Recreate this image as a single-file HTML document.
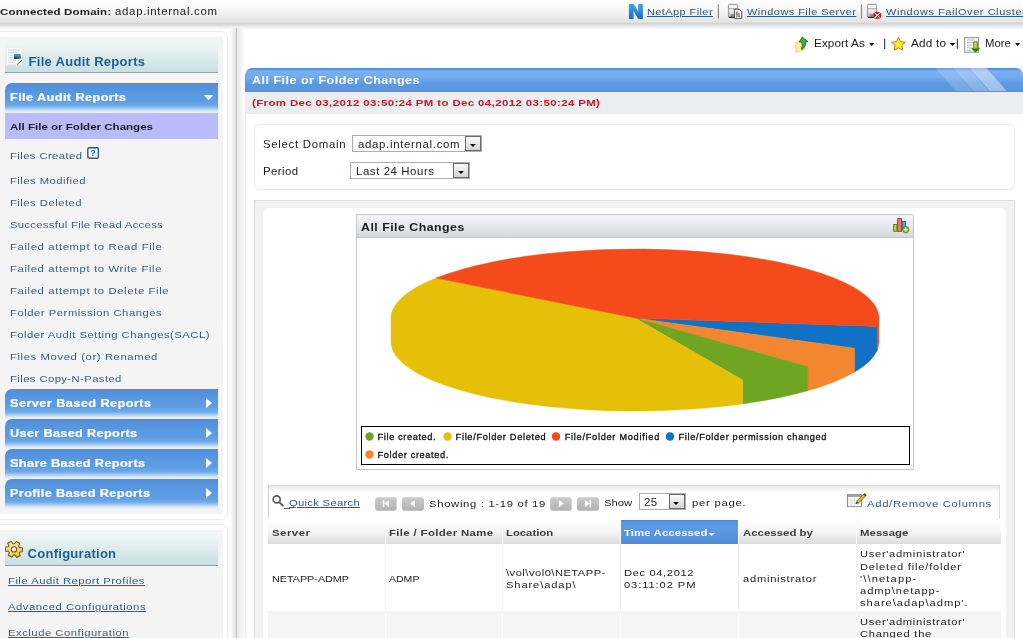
<!DOCTYPE html>
<html>
<head>
<meta charset="utf-8">
<title>Audit Report</title>
<style>
html,body{margin:0;padding:0;}
body{width:1023px;height:638px;overflow:hidden;background:#fff;position:relative;font-family:"Liberation Sans",sans-serif;font-size:11px;color:#1c1c1c;}
.abs{position:absolute;}
.t{position:absolute;white-space:nowrap;line-height:14px;transform-origin:0 50%;}
.v{letter-spacing:0.55px;}
.vb{font-weight:bold;letter-spacing:0.35px;}
a{color:#2b5b87;}
/* top bar */
#topbar{left:0;top:0;width:1023px;height:30px;background:linear-gradient(#fdfdfd 0,#f8f8f8 8px,#ededed 16px,#e3e3e3 22px,#d3d3d3 23.5px,#dedede 25px,#eeeeee 27px,#ffffff 29.5px);}
/* sidebar */
.sbox{left:-6px;width:232px;border:1px solid #ececec;border-radius:7px;background:#fff;}
.sboxin{left:0;width:223px;background:#f4f4f5;}
.shead{left:5px;width:213px;background:linear-gradient(#f3f5f5 0,#edf3f3 25%,#dcebec 55%,#c9dfe1 100%);border-bottom:1.4px solid #8fa3a8;}
.bluehead{left:5px;width:213px;height:30px;border-radius:7px 0 0 0;background:linear-gradient(#4f8ed9 0,#5798e1 10px,#5c9de5 18px,#6daae9 23px,#dbe7f6 28px,#eff3f9 30px);}
.bluehead span{position:absolute;left:5px;top:6.7px;-webkit-text-stroke:0.2px #fff;transform-origin:0 50%;line-height:14px;color:#fff;font-weight:bold;font-size:10.6px;letter-spacing:0.45px;white-space:nowrap;}
.item{position:absolute;left:10px;transform-origin:0 50%;color:#2f5f8c;font-size:9.8px;letter-spacing:0.5px;white-space:nowrap;line-height:14px;}
.arrow{position:absolute;right:6px;top:9px;width:0;height:0;border-top:5px solid transparent;border-bottom:5px solid transparent;border-left:6px solid #fff;}

.sel{border:1px solid #a9afb5;background:#fff;}
.sel span{transform-origin:0 50%;position:absolute;left:4.6px;top:1px;color:#222;font-size:10.4px;letter-spacing:0.5px;line-height:15px;white-space:nowrap;}
.sel i{position:absolute;right:0;top:0;width:14px;height:13px;border:1px solid #6a6a6a;background:linear-gradient(#fafafa,#d4d4d4);}
.sel i:after{content:"";position:absolute;left:3.5px;top:6.5px;border-left:3.5px solid transparent;border-right:3.5px solid transparent;border-top:3.5px solid #000;}
.th{font-size:9.5px;color:#3c3c3c;}
.td{font-size:9.7px;color:#222;line-height:12.2px;letter-spacing:0.45px;}
.vl{top:520px;width:1px;height:118px;background:linear-gradient(#fdfdfd 0,#fdfdfd 24px,#f1f1f1 24px,#f1f1f1 91px,#fbfbfb 91px);}
.lg{position:absolute;white-space:nowrap;font-size:9.2px;line-height:13px;letter-spacing:0.5px;color:#111;-webkit-text-stroke:0.3px #111;}
</style>
</head>
<body>
<div id="root" style="position:absolute;left:0;top:0;width:1023px;height:638px;overflow:hidden;will-change:transform;">
<!-- TOP BAR -->
<div id="topbar" class="abs"></div>
<div class="t vb" style="left:0px;top:5.2px;font-size:9.6px;letter-spacing:0.12px;transform:scaleX(1.2);">Connected Domain:</div>
<div class="t v" style="left:115px;top:4.8px;font-size:10.2px;letter-spacing:0.63px;transform:scaleX(1.12);">adap.internal.com</div>

<!-- SIDEBAR BOX 1 -->
<div class="abs sbox" style="top:31px;height:487px;"></div>
<div class="abs sboxin" style="top:37px;height:477px;"></div>
<div class="abs shead" style="top:37px;height:34.6px;"></div>
<div class="t" style="left:28.5px;top:54.5px;font-size:13px;font-weight:bold;color:#1f5f8f;letter-spacing:0.3px;">File Audit Reports</div>

<div class="abs bluehead" style="top:83px;"><span style="letter-spacing:0.34px;transform:scaleX(1.2);">File Audit Reports</span></div>
<div class="abs" style="left:5px;top:113px;width:213px;height:26px;background:#bbbbfb;"></div>
<div class="t vb" style="left:10px;top:119.5px;font-size:9.6px;letter-spacing:0.01px;transform:scaleX(1.2);">All File or Folder Changes</div>

<div class="item" style="top:148.8px;letter-spacing:0.36px;transform:scaleX(1.15);">Files Created</div>
<div class="item" style="top:173.8px;letter-spacing:0.4px;transform:scaleX(1.15);">Files Modified</div>
<div class="item" style="top:195.8px;letter-spacing:0.42px;transform:scaleX(1.15);">Files Deleted</div>
<div class="item" style="top:217.8px;letter-spacing:0.27px;transform:scaleX(1.15);">Successful File Read Access</div>
<div class="item" style="top:239.8px;letter-spacing:0.55px;transform:scaleX(1.15);">Failed attempt to Read File</div>
<div class="item" style="top:261.8px;letter-spacing:0.55px;transform:scaleX(1.15);">Failed attempt to Write File</div>
<div class="item" style="top:283.8px;letter-spacing:0.55px;transform:scaleX(1.15);">Failed attempt to Delete File</div>
<div class="item" style="top:305.8px;letter-spacing:0.46px;transform:scaleX(1.15);">Folder Permission Changes</div>
<div class="item" style="top:327.8px;letter-spacing:0.42px;transform:scaleX(1.15);">Folder Audit Setting Changes(SACL)</div>
<div class="item" style="top:349.8px;letter-spacing:0.53px;transform:scaleX(1.15);">Files Moved (or) Renamed</div>
<div class="item" style="top:371.8px;letter-spacing:0.36px;transform:scaleX(1.15);">Files Copy-N-Pasted</div>

<div class="abs bluehead" style="top:389px;"><span style="letter-spacing:0.36px;transform:scaleX(1.2);">Server Based Reports</span><i class="arrow"></i></div>
<div class="abs bluehead" style="top:419px;"><span style="letter-spacing:0.27px;transform:scaleX(1.2);">User Based Reports</span><i class="arrow"></i></div>
<div class="abs bluehead" style="top:449px;"><span style="letter-spacing:0.3px;transform:scaleX(1.2);">Share Based Reports</span><i class="arrow"></i></div>
<div class="abs bluehead" style="top:479px;"><span style="letter-spacing:0.3px;transform:scaleX(1.2);">Profile Based Reports</span><i class="arrow"></i></div>

<!-- SIDEBAR BOX 2 -->
<div class="abs sbox" style="top:524px;height:140px;"></div>
<div class="abs sboxin" style="top:530px;height:120px;"></div>
<div class="abs shead" style="top:530px;height:34.6px;"></div>
<div class="t" style="left:27.6px;top:546.5px;font-size:13px;font-weight:bold;color:#1f5f8f;letter-spacing:0.27px;">Configuration</div>
<a class="item" style="left:8px;top:574.1px;text-decoration:underline;letter-spacing:0.43px;transform:scaleX(1.15);">File Audit Report Profiles</a>
<a class="item" style="left:8px;top:600.1px;text-decoration:underline;letter-spacing:0.46px;transform:scaleX(1.15);">Advanced Configurations</a>
<a class="item" style="left:8px;top:626.1px;text-decoration:underline;letter-spacing:0.45px;transform:scaleX(1.15);">Exclude Configuration</a>

<!-- DIVIDER -->
<div class="abs" style="left:230px;top:28px;width:15px;height:610px;background:linear-gradient(90deg,#ffffff 0,#f6f6f6 2px,#e4e4e4 5.4px,#c4c4c4 5.9px,#c4c4c4 7.1px,#e9e9e9 7.5px,#f2f2f2 10.5px,#fdfdfd 15px);"></div>
<div class="abs" style="left:245px;top:114px;width:1px;height:524px;background:#f1f1f1;"></div>

<!-- MAIN -->

<!-- top right links -->
<a class="t v" style="left:647.4px;top:4.8px;font-size:9.5px;text-decoration:underline;letter-spacing:0.38px;transform:scaleX(1.15);">NetApp Filer</a>
<a class="t v" style="left:746.7px;top:4.8px;font-size:9.5px;text-decoration:underline;letter-spacing:0.42px;transform:scaleX(1.15);">Windows File Server</a>
<a class="t v" style="left:885.6px;top:4.8px;font-size:9.5px;text-decoration:underline;letter-spacing:0.51px;transform:scaleX(1.15);">Windows FailOver Cluster</a>

<!-- toolbar -->
<div class="t v" style="left:813.5px;top:36.7px;font-size:10.2px;letter-spacing:0.08px;transform:scaleX(1.15);">Export As</div>
<div class="t v" style="left:910.6px;top:36.7px;font-size:10.2px;letter-spacing:0.19px;transform:scaleX(1.15);">Add to</div>
<div class="t v" style="left:984.9px;top:36.7px;font-size:10.2px;letter-spacing:0px;transform:scaleX(1.111);">More</div>

<!-- blue header -->
<div class="abs" style="left:245px;top:68px;width:778px;height:23.6px;border-radius:7px 7px 0 0;background:linear-gradient(#4f8ad4 0,#5a94dc 1.2px,#79afef 3px,#74abec 9px,#5e9be3 15px,#5593de 23px);overflow:hidden;">
  <svg width="778" height="23" style="position:absolute;left:0;top:0"><polygon points="690.3,0 707.3,0 727.8,23 710.8,23" fill="#fff" opacity="0.17"/><polygon points="707.9,0 723.5,0 744,23 728.4,23" fill="#fff" opacity="0.27"/><polygon points="724.2,0 741.3,0 761.8,23 744.7,23" fill="#fff" opacity="0.42"/></svg>
</div>
<div class="t vb" style="left:251.5px;top:73.9px;font-size:10.4px;color:#fff;letter-spacing:0.43px;transform:scaleX(1.2);">All File or Folder Changes</div>
<div class="abs" style="left:245px;top:91.6px;width:778px;height:22.6px;background:#ecedf3;"></div>
<div class="t vb" style="left:252.3px;top:96.4px;font-size:9.5px;color:#d4141c;letter-spacing:0.34px;transform:scaleX(1.2);">(From Dec 03,2012 03:50:24 PM to Dec 04,2012 03:50:24 PM)</div>

<!-- filter box -->
<div class="abs" style="left:254px;top:124px;width:759px;height:64px;border:1px solid #ececec;border-radius:6px;"></div>
<div class="t v" style="left:263.2px;top:138.1px;font-size:10.4px;letter-spacing:0.62px;transform:scaleX(1.1);">Select Domain</div>
<div class="abs sel" style="left:352px;top:135px;width:128px;height:15px;"><span style="letter-spacing:0.61px;transform:scaleX(1.1);">adap.internal.com</span><i></i></div>
<div class="t v" style="left:263.2px;top:165.1px;font-size:10.4px;letter-spacing:0.39px;transform:scaleX(1.1);">Period</div>
<div class="abs sel" style="left:350px;top:162px;width:118px;height:15px;"><span style="letter-spacing:0.52px;transform:scaleX(1.1);">Last 24 Hours</span><i></i></div>

<!-- chart container -->
<div class="abs" style="left:254px;top:200px;width:759px;height:460px;border:1px solid #dedede;background:#f1f1f1;"></div>
<div class="abs" style="left:262.5px;top:208px;width:743.5px;height:440px;background:#fff;border-radius:6px 6px 0 0;"></div>

<!-- chart panel -->
<div class="abs" style="left:355.7px;top:214px;width:556.6px;height:253.6px;border:1px solid #c6c8cc;border-radius:0 2px 0 0;background:#fff;"></div>
<div class="abs" style="left:357px;top:215px;width:556px;height:22px;background:linear-gradient(#f4f5f7 0,#e7e9ed 50%,#d3d6dc 100%);border-bottom:1px solid #c4c7cc;"></div>
<div class="t vb" style="left:361.3px;top:220.6px;font-size:10.3px;letter-spacing:0.4px;transform:scaleX(1.2);">All File Changes</div>
<svg class="abs" style="left:357px;top:238px;" width="556" height="188" viewBox="357 238 556 188">
  <g>
<path d="M877.18,324.91 A244,69 0 0 1 854.40,346.69 L854.40,372.19 A244,69 0 0 0 877.18,350.41 Z" fill="#0f72c4" stroke="#0f72c4" stroke-width="0.4"/>
<path d="M854.40,346.69 A244,69 0 0 1 807.85,365.20 L807.85,390.70 A244,69 0 0 0 854.40,372.19 Z" fill="#f4862f" stroke="#f4862f" stroke-width="0.4"/>
<path d="M807.85,365.20 A244,69 0 0 1 742.57,378.43 L742.57,403.93 A244,69 0 0 0 807.85,390.70 Z" fill="#6ea523" stroke="#6ea523" stroke-width="0.4"/>
<path d="M742.57,378.43 A244,69 0 0 1 391.00,316.50 L391.00,342.00 A244,69 0 0 0 742.57,403.93 Z" fill="#e6bf08" stroke="#e6bf08" stroke-width="0.4"/>
<path d="M879.00,316.50 A244,69 0 0 1 877.18,324.91 L877.18,350.41 A244,69 0 0 0 879.00,342.00 Z" fill="#d8502f" stroke="#d8502f" stroke-width="0.4"/>
<path d="M635,318 L877.18,326.41 A244,69 0 0 1 854.40,348.19 Z" fill="#0f72c4" stroke="#0f72c4" stroke-width="0.5"/>
<path d="M635,318 L854.40,348.19 A244,69 0 0 1 807.85,366.70 Z" fill="#f4862f" stroke="#f4862f" stroke-width="0.5"/>
<path d="M635,318 L807.85,366.70 A244,69 0 0 1 742.57,379.93 Z" fill="#6ea523" stroke="#6ea523" stroke-width="0.5"/>
<path d="M635,318 L742.57,379.93 A244,69 0 0 1 436.16,278.01 Z" fill="#e6bf08" stroke="#e6bf08" stroke-width="0.5"/>
<path d="M635,318 L436.16,278.01 A244,69 0 0 1 877.18,326.41 Z" fill="#f54b1a" stroke="#f54b1a" stroke-width="0.5"/>
</g>
</svg>
<div class="abs" style="left:361px;top:426px;width:547px;height:37px;border:1px solid #000;"></div>
<div class="lg" style="left:377.6px;top:430.8px;letter-spacing:0.62px;">File created.</div>
<div class="lg" style="left:455.6px;top:430.8px;letter-spacing:0.69px;">File/Folder Deleted</div>
<div class="lg" style="left:564.7px;top:430.8px;letter-spacing:0.73px;">File/Folder Modified</div>
<div class="lg" style="left:678.5px;top:430.8px;letter-spacing:0.68px;">File/Folder permission changed</div>
<div class="lg" style="left:377.6px;top:448.7px;letter-spacing:0.64px;">Folder created.</div>
<svg class="abs" style="left:361px;top:427px;" width="548" height="37" viewBox="361 427 548 37">
<circle cx="369.5" cy="436.5" r="4.2" fill="#6ea523"/><circle cx="447.5" cy="436.5" r="4.2" fill="#e6bf08"/><circle cx="556" cy="436.5" r="4.2" fill="#f54b1a"/><circle cx="670" cy="436.5" r="4.2" fill="#0f72c4"/><circle cx="369.5" cy="454.5" r="4.2" fill="#f4862f"/>
</svg>

<!-- table toolbar -->
<div class="abs" style="left:268px;top:484.5px;width:732px;height:34.5px;background:linear-gradient(#dadada 0,#ececec 2px,#f8f8f8 5px,#ffffff 8px);border-left:1px solid #cfcfcf;border-right:1px solid #dcdcdc;box-sizing:border-box;"></div>
<a class="t v" style="left:288.9px;top:496.3px;font-size:9.8px;text-decoration:underline;letter-spacing:0.24px;transform:scaleX(1.15);">Quick Search</a>
<div class="t v" style="left:429.3px;top:496.5px;font-size:9.8px;letter-spacing:0.59px;transform:scaleX(1.15);">Showing : 1-19 of 19</div>
<div class="t v" style="left:604.3px;top:495.6px;font-size:9.8px;letter-spacing:0px;transform:scaleX(1.15);">Show</div>
<div class="abs sel" style="left:638.5px;top:493px;width:45px;height:15px;"><span style="letter-spacing:0.35px;transform:scaleX(1.1);">25</span><i></i></div>
<div class="t v" style="left:692.4px;top:496.1px;font-size:9.8px;letter-spacing:0.65px;transform:scaleX(1.15);">per page.</div>
<div class="t v" style="left:866.5px;top:496.6px;font-size:9.8px;color:#2b5b87;letter-spacing:0.59px;transform:scaleX(1.15);">Add/Remove Columns</div>

<div class="abs" style="left:284px;top:507.7px;width:5.5px;height:1px;background:#2b5b87;"></div>
<!-- table header -->
<div class="abs" style="left:268px;top:520px;width:733px;height:24px;background:linear-gradient(#ffffff 0,#f6f6f6 45%,#dcdcdc 100%);"></div>
<div class="abs" style="left:621px;top:520px;width:117px;height:24px;background:linear-gradient(#4a85cf 0,#5a98e2 2.5px,#5c9ae4 8px,#5794df 16px,#4e8cd8 24px);"></div>
<div class="t vb th" style="left:272px;top:525.5px;letter-spacing:0.41px;transform:scaleX(1.2);">Server</div>
<div class="t vb th" style="left:389.4px;top:525.5px;letter-spacing:0.29px;transform:scaleX(1.2);">File / Folder Name</div>
<div class="t vb th" style="left:506.4px;top:525.5px;letter-spacing:0px;transform:scaleX(1.19);">Location</div>
<div class="t vb th" style="left:624px;top:525.5px;color:#fff;letter-spacing:0.07px;transform:scaleX(1.2);">Time Accessed</div>
<div class="t vb th" style="left:742.6px;top:525.5px;letter-spacing:0.02px;transform:scaleX(1.2);">Accessed by</div>
<div class="t vb th" style="left:860px;top:525.5px;letter-spacing:0.03px;transform:scaleX(1.2);">Message</div>

<!-- rows -->
<div class="abs" style="left:268px;top:544px;width:733px;height:67px;background:#fff;"></div>
<div class="abs" style="left:268px;top:611px;width:733px;height:40px;background:#f5f5f6;"></div>
<div class="abs vl" style="left:385px;"></div><div class="abs vl" style="left:502px;"></div><div class="abs vl" style="left:620px;"></div><div class="abs vl" style="left:738px;"></div><div class="abs vl" style="left:856px;"></div>
<div class="t v td" style="left:272px;top:572.9px;letter-spacing:0px;transform:scaleX(1.112);">NETAPP-ADMP</div>
<div class="t v td" style="left:389.4px;top:572.9px;letter-spacing:0px;transform:scaleX(1.086);">ADMP</div>
<div class="t v td" style="left:506.4px;top:566.5px;letter-spacing:0.43px;transform:scaleX(1.15);">\vol\vol0\NETAPP-</div>
<div class="t v td" style="left:506.4px;top:578.9px;letter-spacing:0.77px;transform:scaleX(1.15);">Share\adap\</div>
<div class="t v td" style="left:624px;top:566.8px;letter-spacing:0.55px;transform:scaleX(1.15);">Dec 04,2012</div>
<div class="t v td" style="left:624px;top:578.8px;letter-spacing:0.79px;transform:scaleX(1.15);">03:11:02 PM</div>
<div class="t v td" style="left:742.6px;top:572.9px;letter-spacing:0.65px;transform:scaleX(1.15);">administrator</div>
<div class="t v td" style="left:860px;top:548.4px;letter-spacing:0.6px;transform:scaleX(1.15);">User'administrator'</div>
<div class="t v td" style="left:860px;top:560.8px;letter-spacing:0.69px;transform:scaleX(1.15);">Deleted file/folder</div>
<div class="t v td" style="left:860px;top:572.8px;letter-spacing:0.98px;transform:scaleX(1.15);">'\\netapp-</div>
<div class="t v td" style="left:860px;top:585.1px;letter-spacing:0.85px;transform:scaleX(1.15);">admp\netapp-</div>
<div class="t v td" style="left:860px;top:597.1px;letter-spacing:0.85px;transform:scaleX(1.15);">share\adap\admp'.</div>
<div class="t v td" style="left:860px;top:615.8px;letter-spacing:0.6px;transform:scaleX(1.15);">User'administrator'</div>
<div class="t v td" style="left:860px;top:627.8px;letter-spacing:0.65px;transform:scaleX(1.15);">Changed the</div>


<!-- ICONS -->
<svg class="abs" style="left:0;top:0;" width="1023" height="638" viewBox="0 0 1023 638">
<defs>
<linearGradient id="gN" x1="0" y1="0" x2="0" y2="1"><stop offset="0" stop-color="#3fa6f0"/><stop offset="1" stop-color="#1a6fbe"/></linearGradient>
<linearGradient id="gSrv" x1="0" y1="0" x2="0" y2="1"><stop offset="0" stop-color="#e8e8e8"/><stop offset="0.35" stop-color="#f6f6f6"/><stop offset="1" stop-color="#bdbdbd"/></linearGradient>
<linearGradient id="gBtn" x1="0" y1="0" x2="0" y2="1"><stop offset="0" stop-color="#cbcbcb"/><stop offset="1" stop-color="#b2b2b2"/></linearGradient>
<linearGradient id="gGear" x1="0" y1="0" x2="1" y2="1"><stop offset="0" stop-color="#fdf0b0"/><stop offset="1" stop-color="#f3bf2c"/></linearGradient>
<linearGradient id="gArr" x1="0" y1="0" x2="1" y2="0"><stop offset="0" stop-color="#7fb02a"/><stop offset="0.5" stop-color="#b4dc55"/><stop offset="1" stop-color="#6a9a20"/></linearGradient>
</defs>
<!-- sidebar title icon -->
<g>
<rect x="6.5" y="47.5" width="15" height="17" fill="#fbfcfc" stroke="#e8eeee" stroke-width="0.8"/>
<path d="M8 50h12M8 52.5h9M8 55h5M8 57.5h5M8 60h8M8 62.5h7" stroke="#cfd3d6" stroke-width="1"/>
<rect x="14" y="54" width="6.7" height="4.6" fill="#3b93cf"/><rect x="14" y="56.6" width="6.7" height="2" fill="#3f6a44"/><rect x="14" y="57.4" width="3" height="1.2" fill="#1d2a24"/>
<path d="M17.2 64.4L22 60.2" stroke="#4a4a4a" stroke-width="0.9"/>
</g>
<!-- help icon -->
<rect x="87.8" y="147.7" width="10.6" height="10.6" rx="1.6" fill="#eef7fe" stroke="#2f5a7c" stroke-width="1.4"/>
<text x="93.1" y="156.4" font-family="Liberation Sans" font-size="9" font-weight="bold" fill="#2a6aa8" text-anchor="middle">?</text>
<!-- blue head down arrow -->
<path d="M203.8 95h9.6l-4.8 5.2z" fill="#fff"/>
<!-- gear -->
<g transform="translate(14,549.4) scale(0.92)">
<path id="gearp" d="M-2.2,-8.6 L2.2,-8.6 L2.6,-5.6 L4.3,-4.7 L7.0,-6.2 L9.2,-2.4 L6.8,-0.6 L6.8,0.6 L9.2,2.4 L7.0,6.2 L4.3,4.7 L2.6,5.6 L2.2,8.6 L-2.2,8.6 L-2.6,5.6 L-4.3,4.7 L-7.0,6.2 L-9.2,2.4 L-6.8,0.6 L-6.8,-0.6 L-9.2,-2.4 L-7.0,-6.2 L-4.3,-4.7 L-2.6,-5.6 Z" transform="rotate(30)" fill="url(#gGear)" stroke="#6b5a1a" stroke-width="1.1" stroke-linejoin="round"/>
<circle cx="0" cy="0" r="2.9" fill="#eef0ee" stroke="#6b5a1a" stroke-width="1.1"/>
</g>
<!-- NetApp N -->
<path d="M628.9 3.9h4.9l4.4 7.6V3.9h4.7v15h-4.7l-4.6-8v8h-4.7z" fill="url(#gN)"/>
<!-- sep -->
<rect x="717.8" y="4.3" width="1.2" height="14.3" fill="#8a8a8a"/>
<rect x="860.9" y="4.3" width="1.2" height="14.3" fill="#8a8a8a"/>
<!-- server + doc -->
<g>
<rect x="728.4" y="4.3" width="9.3" height="13" rx="1.2" fill="url(#gSrv)" stroke="#8c8c8c" stroke-width="0.9"/>
<rect x="729" y="6.2" width="8" height="1.6" fill="#fff"/>
<rect x="728.4" y="8.3" width="9.3" height="0.9" fill="#9a9a9a"/>
<rect x="730.5" y="14.6" width="4" height="1" fill="#c7283a"/>
<rect x="729" y="16.7" width="6" height="1.2" fill="#111"/>
<path d="M734.6 9.2h4.6l2.5 2.5v6.7h-7.1z" fill="#fff" stroke="#3a3a3a" stroke-width="0.9"/>
<path d="M736 12.2h1.8M736 14.1h4M736 16.1h4" stroke="#222" stroke-width="0.9"/>
</g>
<!-- server + red x -->
<g>
<rect x="867.4" y="4.3" width="9.3" height="13" rx="1.2" fill="url(#gSrv)" stroke="#8c8c8c" stroke-width="0.9"/>
<rect x="868" y="6.2" width="8" height="1.6" fill="#fff"/>
<rect x="867.4" y="8.3" width="9.3" height="0.9" fill="#9a9a9a"/>
<rect x="869.5" y="14.6" width="4" height="1" fill="#c7283a"/>
<rect x="868" y="16.7" width="6" height="1.2" fill="#111"/>
<path d="M874.6 11.9h5.2l1.3 1.5v3.8l-1.3 1.5h-5.2l-1.3-1.5v-3.8z" fill="#c8141f"/>
<path d="M874.2 12.3l6.3 6M880.5 12.3l-6.3 6" stroke="#fbe9ea" stroke-width="1.1"/>
</g>
<!-- export icon -->
<g>
<path d="M795.3 42.3l5.2-1.3 1 1.2 4.6-0.6-1.2 8.2-9 2.8z" fill="#f4e27a" stroke="#e9d56a" stroke-width="0.5"/>
<path d="M796.2 43.6l4-0.9 0.8 1 3.8-0.4-0.9 6-7.2 2.2z" fill="#f9eea2"/>
<path d="M802.3 37.1l5.7 4.6-2.6 0.1c0.6 3 -0.8 6 -3.6 7.9l-0.5-1.6c1.3-1.7 1.4-4 0.5-6.2l-2.6 0.1z" fill="#3fb43f" stroke="#187018" stroke-width="0.9" stroke-linejoin="round"/>
</g>
<path d="M869.3 43h4.8l-2.4 3.1z" fill="#000"/>
<rect x="884" y="38.8" width="1.2" height="10.2" fill="#444"/>
<!-- star -->
<g transform="translate(898.5,44) scale(0.93) translate(-898.5,-44.4)"><path d="M898.5 37.2l2.2 4.7 5.2 0.6-3.8 3.5 1 5.1-4.6-2.6-4.6 2.6 1-5.1-3.8-3.5 5.2-0.6z" fill="#ffe21c" stroke="#b8741c" stroke-width="1" stroke-linejoin="round"/>
<path d="M898.5 40l1.3 3 3 0.3-2.2 2 0.6 3-2.7-1.5-2.7 1.5 0.6-3-2.2-2 3-0.3z" fill="#fff41e"/></g>
<path d="M949.9 43h5.2l-2.6 3.1z" fill="#000"/>
<rect x="956.8" y="39" width="1.2" height="9.8" fill="#444"/>
<!-- more icon -->
<g>
<rect x="964.6" y="37.6" width="13.8" height="14.6" fill="#fbfbfb" stroke="#9a9a9a" stroke-width="1.1"/>
<path d="M967 40h8M967 42.6h6M967 45.2h5M967 47.8h4M967 50.2h4" stroke="#b5b5b5" stroke-width="1"/>
<path d="M973.5 41.8h4.1v6.5h1.9l-4 3.8-4-3.8h2z" fill="url(#gArr)" stroke="#47761a" stroke-width="0.7" stroke-linejoin="round"/>
<path d="M971.6 48.4h7.9l-4 3.8z" fill="#3f6f14"/>
</g>
<path d="M1015 43h5l-2.5 3.1z" fill="#000"/>
<!-- chart icon -->
<g>
<rect x="893.6" y="224.5" width="3.4" height="6.8" fill="#a6d83c" stroke="#4e7d12" stroke-width="0.9"/>
<rect x="897.7" y="218.6" width="3.8" height="12.7" fill="#f57a68" stroke="#9e3a2a" stroke-width="0.9"/>
<rect x="902.2" y="221.4" width="3.4" height="8" fill="#5aa6e0" stroke="#1f5f9c" stroke-width="0.9"/>
<circle cx="905.8" cy="229.6" r="3.2" fill="#7cc02e" stroke="#3f7a12" stroke-width="0.7"/>
<path d="M905.8 227.6v4M903.8 229.6h4" stroke="#e9f7c8" stroke-width="1.1"/>
</g>
<!-- magnifier -->
<circle cx="276.7" cy="499.4" r="3.5" fill="none" stroke="#5a5a5a" stroke-width="1.7"/>
<path d="M279.3 502.1l3.4 3.6" stroke="#5a5a5a" stroke-width="1.9" stroke-linecap="round"/>
<!-- nav buttons -->
<rect x="375.1" y="497.2" width="21.6" height="13.5" rx="2.6" fill="url(#gBtn)"/>
<rect x="402" y="497.2" width="22" height="13.5" rx="2.6" fill="url(#gBtn)"/>
<rect x="550.1" y="497.2" width="21.6" height="13.5" rx="2.6" fill="url(#gBtn)"/>
<rect x="577" y="497.2" width="22" height="13.5" rx="2.6" fill="url(#gBtn)"/>
<path d="M382.7 499.9h1.7v7.3h-1.7zM384.5 503.55l4.4-3.65v7.3z" fill="#fff"/>
<path d="M410.3 503.55l4.7-3.65v7.3z" fill="#fff"/>
<path d="M558.9 499.9l4.9 3.65-4.9 3.65z" fill="#fff"/>
<path d="M585 499.9l4.5 3.65-4.5 3.65zM589.5 499.9h1.6v7.3h-1.6z" fill="#fff"/>
<!-- add/remove columns icon -->
<g>
<rect x="847.4" y="494.6" width="14.2" height="12" fill="#fdfdfd" stroke="#8a8a8a" stroke-width="1"/>
<rect x="847.9" y="495.1" width="13.2" height="1.8" fill="#9c9c9c"/>
<path d="M851 497v9.5M854.5 497v9.5M858 497v9.5M848 500h13M848 503h13" stroke="#d4d8d4" stroke-width="0.8"/>
<path d="M857.5 502.3l7.2-7.2" stroke="#8c5f14" stroke-width="3.1"/>
<path d="M857.7 502.1l6.6-6.6" stroke="#f2b430" stroke-width="1.8"/>
<path d="M864.3 495.5l1.4-1.4" stroke="#7a4a1a" stroke-width="3"/>
<path d="M855.6 504.1l0.9-2.7 1.8 1.8z" fill="#222"/>
</g>
<!-- sort arrow -->
<path d="M708.6 532.9h6l-3 3.2z" fill="#fff"/>
</svg>
</div>
</body>
</html>
